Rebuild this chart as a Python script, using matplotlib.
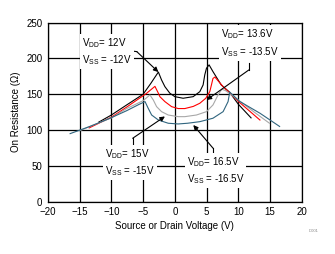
import numpy as np
import matplotlib
matplotlib.use('Agg')
import matplotlib.pyplot as plt

plt.rcParams['font.family'] = ['Liberation Sans', 'DejaVu Sans']
plt.rcParams['mathtext.default'] = 'regular'

# Daten: Einschaltwiderstand vs. Source/Drain-Spannung
v_12 = [-12, -10, -7.6, -5, -3.8, -2.6, -2.1, -1.57, -0.79, 0, 1.3, 2.88, 3.93, 4.45, 4.71, 4.98,
        5.39, 6.0, 7.3, 8.6, 10.0, 12.0]
r_12 = [111, 121, 135, 150, 165, 181, 170, 160.6, 151.4, 146.6, 144.4, 146.6, 153.6, 163, 177, 186.3,
        191, 181.6, 163, 153, 136, 117]

v_135 = [-13.5, -10, -7.6, -4.5, -3.14, -2.6, -2.36, -1.57, -0.52, 0.52, 1.57, 2.9, 3.93, 4.87, 5.5,
         5.76, 6.0, 6.3, 7.6, 10.0, 13.4]
r_135 = [103, 118, 132, 151, 161, 151.4, 146.6, 139.7, 132.7, 130, 130, 133, 137.4, 144.4, 153.6,
         163, 172, 174, 160.6, 140, 114]

v_15 = [-15, -13.4, -10, -7.6, -5, -3.93, -3.4, -2.88, -2.1, -1.05, 0.52, 1.57, 3.4, 4.98, 6.0, 6.8,
        7.4, 8.0, 10.0, 12.5, 14.9]
r_15 = [99, 105, 117, 130, 141, 149, 142, 132.7, 125.7, 121, 118.7, 118.7, 121, 125.7, 135, 149,
        157, 155, 142, 125, 109.5]

v_165 = [-16.5, -13.4, -10.2, -7.6, -5.6, -4.7, -4.2, -3.66, -2.6, -1.05, 0.52, 2.0, 3.93, 6.0, 7.6,
         8.38, 8.64, 10.2, 13.4, 16.5]
r_165 = [95, 105, 116.5, 127, 136, 139.7, 130.4, 121, 114, 109.5, 108.5, 109.5, 111.7, 116.5, 125.7,
         139.7, 153, 140, 123.5, 105]

fig = plt.figure(figsize=(3.35, 2.54), dpi=100)
ax = fig.add_axes([0.143, 0.206, 0.758, 0.705])

ax.plot(v_12, r_12, color='black', lw=0.8)
ax.plot(v_135, r_135, color='red', lw=0.8)
ax.plot(v_15, r_15, color='#a8a8a8', lw=0.8)
ax.plot(v_165, r_165, color='#30657f', lw=0.8)

ax.set_xlim(-20, 20)
ax.set_ylim(0, 250)
ax.set_xticks(np.arange(-20, 21, 5))
ax.set_yticks(np.arange(0, 251, 50))
ax.grid(True, color='black', lw=0.9)
ax.set_axisbelow(True)
ax.tick_params(length=0, labelsize=7, pad=4)
for s in ax.spines.values():
    s.set_linewidth(0.9)
ax.set_xlabel('Source or Drain Voltage (V)', fontsize=7, labelpad=3)
ax.set_ylabel('On Resistance (\u03a9)', fontsize=7, labelpad=4)

# Beschriftungen mit Pfeilen
box = dict(facecolor='white', edgecolor='none', pad=1.5)
labels = [
    ('V$_{DD}$= 12V\nV$_{SS}$ = -12V', (-14.65, 210), (-7.4, 211), (-6.0, 209.5), (-2.6, 181)),
    ('V$_{DD}$= 13.6V\nV$_{SS}$ = -13.5V', (7.34, 221.5), (11.67, 193), (11.67, 184), (5.0, 142)),
    ('V$_{DD}$= 15V\nV$_{SS}$ = -15V', (-11.0, 54.5), (-6.65, 79), (-6.65, 88.5), (-1.57, 119)),
    ('V$_{DD}$= 16.5V\nV$_{SS}$ = -16.5V', (1.84, 43), (6.02, 65), (6.02, 74.6), (2.9, 107)),
]
for txt, pos, start, elbow, tip in labels:
    ax.text(pos[0], pos[1], txt, fontsize=7, va='center', ha='left',
            linespacing=1.35, bbox=box, zorder=5)
    ax.plot([start[0], elbow[0]], [start[1], elbow[1]], color='black', lw=0.8, zorder=4)
    ax.annotate('', xy=tip, xytext=elbow,
                arrowprops=dict(arrowstyle='-|>', color='black', lw=0.8,
                                mutation_scale=7, shrinkA=0, shrinkB=0), zorder=4)

fig.text(0.935, 0.085, 'D001', fontsize=3, color='#888888', ha='center')

fig.savefig('out.png', dpi=100)
